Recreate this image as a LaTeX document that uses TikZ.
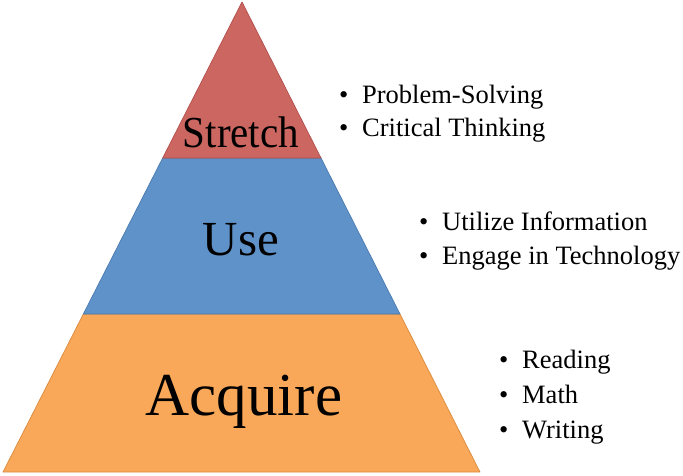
\documentclass[tikz,border=0pt]{standalone}
\usepackage{fontspec}
\setmainfont{Liberation Serif}
\definecolor{redfill}{HTML}{CC6661}
\definecolor{reddraw}{HTML}{B24F4B}
\definecolor{bluefill}{HTML}{5E92C9}
\definecolor{bluedraw}{HTML}{4A7AB0}
\definecolor{orangefill}{HTML}{F9A758}
\definecolor{orangedraw}{HTML}{D98B40}
\tikzset{
  layer/.style={line width=0.7pt, line join=round},
  level/.style={inner sep=0pt, anchor=base, text=black},
  item/.style={inner sep=0pt, anchor=base west, text=black, font=\fontsize{26.5}{30}\selectfont},
}
\newcommand{\bul}[1]{\makebox[23pt][l]{\raisebox{0pt}{•}}#1}
\begin{document}
\begin{tikzpicture}[x=1pt,y=-1pt]
\useasboundingbox (0,0) rectangle (683,475);
% layers
\coordinate (apex) at (242,2);
\coordinate (bl) at (3,472);
\coordinate (br) at (480,472);
\path (apex) -- (bl) coordinate[pos={156/470}] (l1) coordinate[pos={312/470}] (l2);
\path (apex) -- (br) coordinate[pos={156/470}] (r1) coordinate[pos={312/470}] (r2);
\filldraw[layer, fill=orangefill, draw=orangedraw] (l2) -- (r2) -- (br) -- (bl) -- cycle;
\filldraw[layer, fill=bluefill, draw=bluedraw] (l1) -- (r1) -- (r2) -- (l2) -- cycle;
\filldraw[layer, fill=redfill, draw=reddraw] (apex) -- (r1) -- (l1) -- cycle;
% level labels
\node[level, font=\fontsize{41}{45}\selectfont] (stretch) at (241,147) {\scalebox{1}[1.08]{Stretch}};
\node[level, font=\fontsize{49}{55}\selectfont] (use) at (241,255) {Use};
\node[level, font=\fontsize{61}{68}\selectfont] (acquire) at (244,415) {Acquire};
% bullet lists
\node[item] (ps) at (339,103) {\bul{Problem-Solving}};
\node[item] (ct) at (339,136) {\bul{Critical Thinking}};
\node[item] (ui) at (419,230) {\bul{Utilize Information}};
\node[item] (et) at (419,264) {\bul{Engage in Technology}};
\node[item] (rd) at (499,368) {\bul{Reading}};
\node[item] (mt) at (499,403) {\bul{Math}};
\node[item] (wr) at (499,438) {\bul{Writing}};
\end{tikzpicture}
\end{document}
